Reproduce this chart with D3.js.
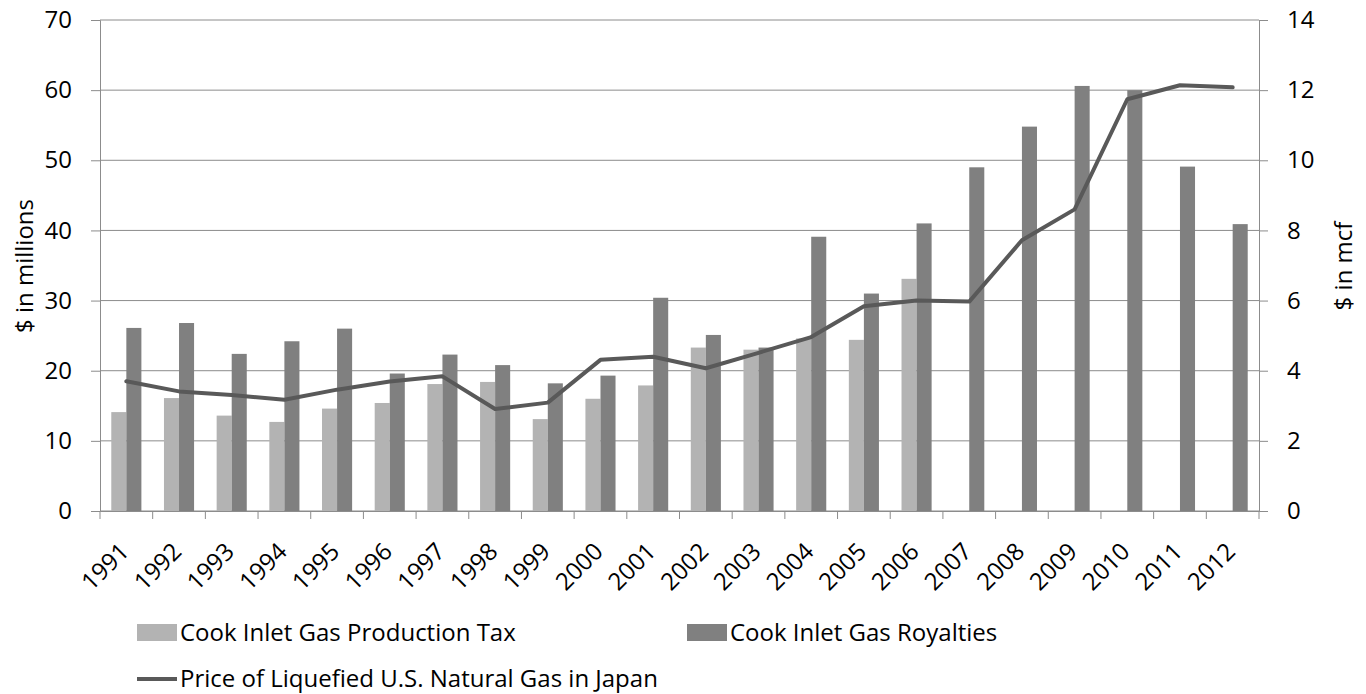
<!DOCTYPE html>
<html><head><meta charset="utf-8">
<script src="https://cdn.jsdelivr.net/npm/d3@7"></script>
<style>body{margin:0;background:#fff}svg{display:block}text{font-family:"Open Sans",sans-serif;fill:#000}</style>
</head><body><svg id="c" width="1366" height="694"></svg>
<script>
const years = ["1991","1992","1993","1994","1995","1996","1997","1998","1999","2000","2001","2002","2003","2004","2005","2006","2007","2008","2009","2010","2011","2012"];
const productionTax = [14.1,16.1,13.6,12.7,14.6,15.4,18.1,18.4,13.1,16.0,17.9,23.3,23.0,24.6,24.4,33.1,null,null,null,null,null,null];
const royalties = [26.1,26.8,22.4,24.2,26.0,19.6,22.3,20.8,18.2,19.3,30.4,25.1,23.3,39.1,31.0,41.0,49.0,54.8,60.6,60.0,49.1,40.9];
const lngPrice = [3.70,3.41,3.31,3.17,3.46,3.69,3.84,2.91,3.09,4.31,4.40,4.07,4.51,4.96,5.84,6.00,5.97,7.72,8.60,11.74,12.14,12.08];
const leftTicks = [0,10,20,30,40,50,60,70];
const rightTicks = [0,2,4,6,8,10,12,14];
const seriesNames = ["Cook Inlet Gas Production Tax","Cook Inlet Gas Royalties","Price of Liquefied U.S. Natural Gas in Japan"];

const FS = "24px";
const svg = d3.select("#c");
const L=100, R=1259, T=20, B=511;
const x = d3.scaleBand().domain(years).range([L,R]).paddingInner(0).paddingOuter(0);
const yL = d3.scaleLinear().domain([0,70]).range([B,T]);
const yR = d3.scaleLinear().domain([0,14]).range([B,T]);
const bw = x.bandwidth()/3.5;
const gap = bw*0.75;
const cLight="#b3b3b3", cDark="#808080", cLine="#595959", cGrid="#8c8c8c";

// gridlines
svg.append("g").selectAll("line").data(leftTicks).join("line")
  .attr("x1",L).attr("x2",R).attr("y1",d=>yL(d)).attr("y2",d=>yL(d))
  .attr("stroke",cGrid).attr("stroke-width",1);

// bars
svg.append("g").selectAll("rect").data(years.map((y,i)=>({y,v:productionTax[i]})).filter(d=>d.v!=null)).join("rect")
  .attr("x",d=>x(d.y)+gap).attr("width",bw).attr("y",d=>yL(d.v)).attr("height",d=>B-yL(d.v)).attr("fill",cLight);
svg.append("g").selectAll("rect").data(years.map((y,i)=>({y,v:royalties[i]}))).join("rect")
  .attr("x",d=>x(d.y)+gap+bw).attr("width",bw).attr("y",d=>yL(d.v)).attr("height",d=>B-yL(d.v)).attr("fill",cDark);

// axes
const axL = d3.axisLeft(yL).tickValues(leftTicks).tickSize(9).tickPadding(19);
const gL = svg.append("g").attr("transform",`translate(${L},0)`).call(axL);
const axR = d3.axisRight(yR).tickValues(rightTicks).tickSize(9).tickPadding(19);
const gR = svg.append("g").attr("transform",`translate(${R},0)`).call(axR);
const axB = d3.axisBottom(x).tickSize(0).tickFormat("");
const gB = svg.append("g").attr("transform",`translate(0,${B})`).call(axB);
[gL,gR,gB].forEach(g=>{g.select(".domain").attr("stroke",cGrid);g.selectAll(".tick line").attr("stroke",cGrid);g.selectAll("text").style("font-size",FS).style("font-family","'Open Sans',sans-serif").attr("fill","#000");});
// x ticks at band boundaries
const bounds = years.map(y=>x(y)).concat([R]);
svg.append("g").selectAll("line").data(bounds).join("line")
  .attr("x1",d=>d).attr("x2",d=>d).attr("y1",B).attr("y2",B+8).attr("stroke",cGrid);
// x labels
svg.append("g").selectAll("text").data(years).join("text")
  .attr("transform",d=>`translate(${x(d)+x.bandwidth()/2+4},${B+42}) rotate(-45)`)
  .attr("text-anchor","end").style("font-size",FS).text(d=>d);

// line
const line = d3.line().x((d,i)=>x(years[i])+x.bandwidth()/2).y(d=>yR(d));
svg.append("path").datum(lngPrice).attr("d",line).attr("fill","none").attr("stroke",cLine).attr("stroke-width",4).attr("stroke-linejoin","round").attr("stroke-linecap","round");

// axis titles
svg.append("text").attr("transform","translate(33,266) rotate(-90)").attr("text-anchor","middle").style("font-size",FS).text("$ in millions");
svg.append("text").attr("transform","translate(1352,266) rotate(-90)").attr("text-anchor","middle").style("font-size",FS).text("$ in mcf");

// legend
const lg = svg.append("g");
lg.append("rect").attr("x",137).attr("y",624).attr("width",40).attr("height",17).attr("fill",cLight);
lg.append("text").attr("x",180).attr("y",641).style("font-size",FS).text(seriesNames[0]);
lg.append("rect").attr("x",687).attr("y",624).attr("width",40).attr("height",17).attr("fill",cDark);
lg.append("text").attr("x",730).attr("y",641).style("font-size",FS).text(seriesNames[1]);
lg.append("line").attr("x1",137).attr("x2",177).attr("y1",679).attr("y2",679).attr("stroke",cLine).attr("stroke-width",4);
lg.append("text").attr("x",180).attr("y",687).style("font-size",FS).text(seriesNames[2]);
</script></body></html>
